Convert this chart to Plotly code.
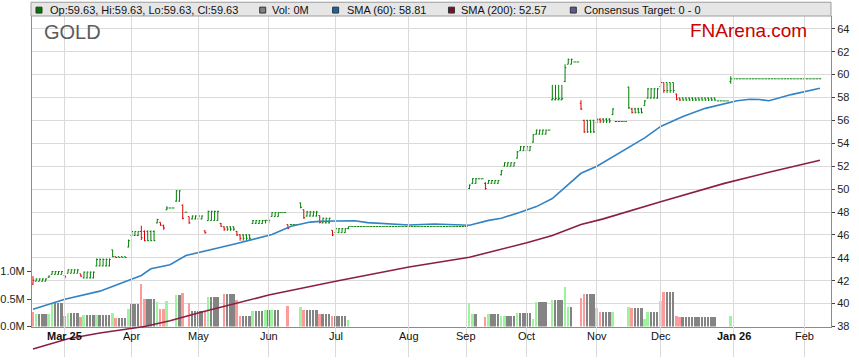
import plotly.graph_objects as go

# ---------------- data ----------------
# Each segment: one traded bar followed by (count-1) repeated copies of it.
seg_open  = [41.70, 41.95, 42.30, 42.55, 42.45, 42.65, 42.60, 42.25, 43.30, 44.70,
             44.10, 44.95, 45.95, 46.30, 46.30, 47.05, 47.10, 46.80, 48.20, 48.35,
             48.95, 48.60, 47.98, 47.60, 47.40, 46.35, 47.25, 47.00, 46.70, 46.30,
             46.00, 47.00, 47.25, 47.60, 47.95, 46.90, 46.90, 48.80, 48.20, 47.65,
             47.70, 47.05, 46.40, 46.20, 46.55, 46.73, 50.05, 50.50, 50.90, 50.50,
             50.50, 51.25, 52.00, 52.70, 53.35, 54.10, 54.80, 55.15, 57.80, 59.40,
             60.90, 61.10, 57.50, 56.00, 55.80, 56.10, 56.50, 55.90, 55.90, 58.90,
             57.00, 57.30, 57.95, 58.95, 59.30, 58.30, 57.95, 57.70, 59.40, 59.63]
seg_high  = [42.40, 42.20, 42.45, 42.85, 42.50, 43.00, 42.60, 42.80, 43.95, 44.70,
             44.10, 45.60, 46.32, 46.80, 46.40, 47.40, 47.10, 46.90, 48.50, 48.35,
             49.90, 48.65, 47.98, 47.60, 47.70, 46.40, 48.12, 47.05, 46.75, 46.35,
             46.05, 47.30, 47.30, 47.98, 47.95, 46.90, 46.90, 48.81, 48.20, 48.10,
             47.70, 47.50, 46.40, 46.60, 46.73, 46.73, 50.40, 50.96, 50.90, 50.60,
             50.80, 51.67, 52.33, 53.33, 53.76, 54.82, 55.19, 55.15, 59.10, 60.90,
             61.40, 61.10, 57.76, 56.05, 56.15, 56.19, 57.05, 55.90, 55.90, 58.95,
             57.10, 57.76, 58.82, 59.68, 59.31, 58.33, 58.00, 57.70, 59.85, 59.63]
seg_low   = [41.65, 41.95, 42.25, 42.55, 42.20, 42.65, 42.35, 42.20, 43.25, 44.05,
             44.00, 44.90, 45.90, 45.55, 45.45, 47.00, 46.80, 46.45, 48.15, 48.35,
             48.90, 47.35, 47.98, 46.97, 47.35, 46.10, 47.24, 46.70, 46.35, 45.90,
             45.50, 46.97, 47.00, 47.60, 47.95, 46.50, 46.90, 48.32, 47.40, 47.60,
             47.00, 47.00, 45.90, 46.18, 46.50, 46.73, 50.00, 50.45, 50.90, 49.95,
             50.48, 51.20, 51.99, 52.67, 53.33, 54.05, 54.76, 55.15, 57.75, 59.34,
             60.90, 61.10, 56.90, 54.90, 55.75, 55.76, 56.48, 55.90, 55.90, 57.00,
             56.60, 57.28, 57.90, 58.90, 58.40, 57.76, 57.70, 57.70, 59.20, 59.63]
seg_close = [42.05, 42.15, 42.40, 42.80, 42.35, 42.95, 42.40, 42.75, 43.85, 44.10,
             44.03, 45.50, 46.30, 45.75, 45.50, 47.35, 46.85, 46.60, 48.35, 48.35,
             49.85, 47.45, 47.98, 47.05, 47.65, 46.20, 48.05, 46.75, 46.50, 46.00,
             45.70, 47.25, 47.28, 47.95, 47.95, 46.55, 46.90, 48.40, 47.50, 48.00,
             47.10, 47.45, 46.00, 46.55, 46.73, 46.73, 50.35, 50.90, 50.90, 50.05,
             50.75, 51.60, 52.30, 53.25, 53.70, 54.75, 55.15, 55.15, 57.90, 60.60,
             61.30, 61.10, 57.00, 55.00, 56.10, 55.95, 57.00, 55.90, 55.90, 57.10,
             56.70, 57.70, 58.75, 59.30, 58.60, 57.85, 57.78, 57.70, 59.63, 59.63]
seg_vol   = [0.26, 0.23, 0.23, 0.42, 0.20, 0.25, 0.18, 0.21, 0.21, 0.25,
             0.16, 0.32, 0.41, 0.77, 0.50, 0.45, 0.32, 0.32, 0.46, 0.00,
             0.57, 0.61, 0.00, 0.42, 0.29, 0.29, 0.54, 0.00, 0.60, 0.48,
             0.20, 0.29, 0.30, 0.30, 0.00, 0.37, 0.00, 0.35, 0.30, 0.30,
             0.23, 0.23, 0.20, 0.20, 0.12, 0.00, 0.43, 0.23, 0.00, 0.18,
             0.23, 0.20, 0.20, 0.25, 0.24, 0.14, 0.45, 0.00, 0.48, 0.72,
             0.35, 0.00, 0.52, 0.59, 0.33, 0.27, 0.26, 0.00, 0.00, 0.35,
             0.34, 0.14, 0.27, 0.46, 0.63, 0.20, 0.17, 0.00, 0.20, 0.00]
seg_code  = ['r', 'g', 'g', 'g', 'r', 'g', 'r', 'g', 'g', 'g',
             'r', 'g', 'k', 'r', 'r', 'g', 'r', 'r', 'g', 'k',
             'g', 'r', 'k', 'r', 'k', 'r', 'g', 'r', 'r', 'r',
             'r', 'g', 'g', 'g', 'k', 'r', 'k', 'g', 'r', 'k',
             'r', 'k', 'r', 'k', 'g', 'k', 'g', 'g', 'k', 'r',
             'g', 'g', 'g', 'g', 'k', 'g', 'g', 'k', 'g', 'g',
             'g', 'k', 'r', 'r', 'g', 'r', 'g', 'r', 'k', 'g',
             'r', 'g', 'g', 'g', 'r', 'r', 'r', 'k', 'g', 'k']
seg_count = [1, 4, 1, 4, 1, 4, 1, 4, 5, 1,
             4, 1, 3, 1, 4, 1, 1, 1, 1, 2,
             2, 1, 1, 1, 4, 1, 4, 1, 4, 1,
             4, 4, 2, 3, 2, 1, 3, 1, 1, 4,
             1, 3, 1, 4, 1, 37, 1, 2, 2, 1,
             4, 1, 4, 1, 4, 1, 4, 1, 4, 1,
             2, 2, 1, 4, 1, 4, 1, 1, 3, 1,
             4, 1, 4, 1, 4, 1, 12, 4, 1, 28]

sma60_x = [0, 10, 21, 31, 34, 37, 43, 48, 53, 63, 75, 81, 87, 90, 95, 99, 101, 105,
           118, 126, 137, 143, 147, 152, 158, 163, 167, 172, 177, 187, 192, 197,
           204, 211, 218, 221, 225, 228, 231, 238, 247]
sma60_y = [39.50, 40.38, 41.09, 42.18, 42.46, 43.04, 43.40, 44.20, 44.52, 45.18,
           46.04, 46.75, 47.12, 47.18, 47.21, 47.27, 47.24, 47.07, 46.87, 46.95,
           46.84, 47.27, 47.46, 47.90, 48.47, 49.18, 50.18, 51.38, 51.99, 53.60,
           54.47, 55.47, 56.33, 57.05, 57.54, 57.71, 57.85, 57.82, 57.71, 58.25,
           58.80]
sma200_x = [0, 11, 21, 35, 43, 53, 74, 95, 118, 137, 155, 163, 172, 179, 197, 217, 231, 247]
sma200_y = [36.03, 36.94, 37.43, 38.00, 38.51, 39.26, 40.75, 41.96, 43.20, 44.05,
            45.32, 45.95, 46.90, 47.40, 48.90, 50.50, 51.47, 52.52]

tick_idx = [10, 31, 52, 74, 95, 118, 136, 155, 177, 197, 220, 242]
tick_text = ["<b>Mar 25</b>", "Apr", "May", "Jun", "Jul", "Aug", "Sep", "Oct",
             "Nov", "Dec", "<b>Jan 26</b>", "Feb"]

legend_items = ["Op:59.63, Hi:59.63, Lo:59.63, Cl:59.63", "Vol: 0M",
                "SMA (60): 58.81", "SMA (200): 52.57", "Consensus Target: 0 - 0"]

# ---------------- styles ----------------
UP = "#008000"
DOWN = "#dd0000"
VOL_COL = {"g": "#9cf59c", "r": "#ff9a9a", "k": "#848484"}
BLUE = "#3383c4"
MAROON = "#8a1f44"
GRID = "#dadada"
AXIS = "#8c8c8c"
FONT = "Liberation Sans, Arial, sans-serif"

# ---------------- expand segments into daily bars ----------------
idx, o, h, l, c, v, vcol, red = [], [], [], [], [], [], [], []
i = 0
for so, sh, sl, sc, sv, code, n in zip(seg_open, seg_high, seg_low, seg_close,
                                       seg_vol, seg_code, seg_count):
    for k in range(n):
        idx.append(i); o.append(so); h.append(sh); l.append(sl); c.append(sc); v.append(sv)
        cc = code if k == 0 else "k"
        vcol.append(VOL_COL[cc])
        red.append(cc == "r")
        i += 1

gi = [j for j in range(len(idx)) if not red[j]]
ri = [j for j in range(len(idx)) if red[j]]

W, H = 859, 363
L, R, T, B = 31, 28, 16, 0
PW, PH = W - L - R, H - T - B


def px(xp):
    return (xp - L) / PW


def py(yp):
    return (H - B - yp) / PH


px_per_idx = 3.19
x0 = -(32 - L) / px_per_idx
x1 = x0 + PW / px_per_idx
dom_bot = (H - B - 332) / PH
price_ppu = 11.655
price_top = 38 + (332 - T) / price_ppu
vol_top = (332 - T) / 56.0
y3_bot = 38 - (H - B - 332) / price_ppu

fig = go.Figure()

fig.add_trace(go.Bar(x=idx, y=v, marker=dict(color=vcol, line=dict(width=0)),
                     width=0.62, yaxis="y", showlegend=False, hoverinfo="skip"))

for sel, col in ((gi, UP), (ri, DOWN)):
    fig.add_trace(go.Ohlc(
        x=[idx[j] for j in sel], open=[o[j] for j in sel], high=[h[j] for j in sel],
        low=[l[j] for j in sel], close=[c[j] for j in sel],
        increasing=dict(line=dict(color=col, width=1)),
        decreasing=dict(line=dict(color=col, width=1)),
        tickwidth=0.4, yaxis="y2", showlegend=False, hoverinfo="skip"))

fig.add_trace(go.Scatter(x=sma60_x, y=sma60_y, mode="lines", yaxis="y2",
                         line=dict(color=BLUE, width=1.6), showlegend=False,
                         hoverinfo="skip"))
fig.add_trace(go.Scatter(x=sma200_x, y=sma200_y, mode="lines", yaxis="y3",
                         line=dict(color=MAROON, width=1.6), showlegend=False,
                         hoverinfo="skip"))

shapes = [dict(type="rect", xref="paper", yref="paper", x0=px(30), x1=px(831),
               y0=py(16), y1=py(2), fillcolor="#e6e6e6",
               line=dict(color="#9c9c9c", width=1), layer="above")]
sq_x = [35, 259, 332, 448, 570]
sq_col = ["#007800", "#808080", "#1565a8", "#78102e", "#5a5a8c"]
txt_x = [47, 269, 344, 459, 582]
annotations = []
for sx, scol, tx, txt in zip(sq_x, sq_col, txt_x, legend_items):
    shapes.append(dict(type="rect", xref="paper", yref="paper", x0=px(sx), x1=px(sx + 6),
                       y0=py(13), y1=py(7), fillcolor=scol,
                       line=dict(color="#333333", width=1), layer="above"))
    annotations.append(dict(xref="paper", yref="paper", x=px(tx), y=py(10), text=txt,
                            showarrow=False, xanchor="left", yanchor="middle",
                            font=dict(family=FONT, size=11, color="#111111")))
annotations.append(dict(xref="paper", yref="paper", x=px(41), y=py(32), text="GOLD",
                        showarrow=False, xanchor="left", yanchor="middle",
                        font=dict(family=FONT, size=20, color="#5c5c5c")))
annotations.append(dict(xref="paper", yref="paper", x=px(809), y=py(31), text="FNArena.com",
                        showarrow=False, xanchor="right", yanchor="middle",
                        font=dict(family=FONT, size=19, color="#cc0000")))
# month labels drawn as annotations so they sit above the SMA(200) line
for tv, tt in zip(tick_idx, tick_text):
    annotations.append(dict(xref="x", yref="paper", x=tv, y=py(342), text=tt,
                            showarrow=False, xanchor="center", yanchor="middle",
                            font=dict(family=FONT, size=11, color="#111111")))

fig.update_layout(
    width=W, height=H, margin=dict(l=L, r=R, t=T, b=B, pad=0),
    paper_bgcolor="white", plot_bgcolor="rgba(0,0,0,0)",
    font=dict(family=FONT, size=11, color="#222222"),
    showlegend=False, bargap=0,
    shapes=shapes, annotations=annotations,
    xaxis=dict(range=[x0, x1], tickmode="array", tickvals=tick_idx,
               showticklabels=False,
               showgrid=True, gridcolor=GRID, gridwidth=1, zeroline=False,
               showline=True, linecolor=AXIS, linewidth=1, ticks="outside",
               ticklen=4, tickcolor=AXIS,
               anchor="y", rangeslider=dict(visible=False), fixedrange=True),
    yaxis=dict(domain=[dom_bot, 1], range=[0, vol_top], tickmode="array",
               tickvals=[0, 0.5, 1.0], ticktext=["0.0M", "0.5M", "1.0M"],
               showgrid=False, zeroline=False, showline=True, linecolor=AXIS,
               ticks="outside", ticklen=4, tickcolor="#444444",
               tickfont=dict(size=11, color="#222222"), side="left", fixedrange=True),
    yaxis2=dict(overlaying="y", side="right", range=[38, price_top], tick0=38, dtick=2,
                showgrid=True, gridcolor=GRID, gridwidth=1, zeroline=False,
                showline=True, linecolor=AXIS, ticks="outside", ticklen=3,
                tickcolor="#444444", tickfont=dict(size=11, color="#222222"),
                fixedrange=True),
    yaxis3=dict(domain=[0, 1], range=[y3_bot, price_top], visible=False,
                anchor="x", fixedrange=True),
)

fig.write_html("out.html", config={"displayModeBar": False},
               post_script="document.body.style.margin='0px';document.body.style.overflow='hidden';")
